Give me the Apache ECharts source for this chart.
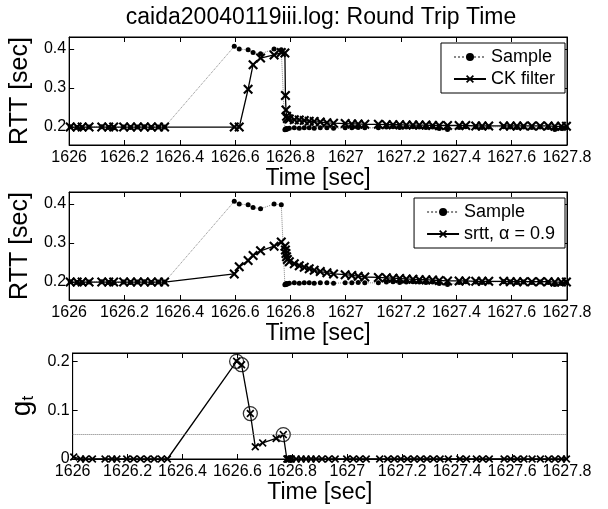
<!DOCTYPE html>
<html>
<head>
<meta charset="utf-8">
<script src="https://cdn.jsdelivr.net/npm/echarts@6/dist/echarts.min.js"></script>
<style>
  html, body { margin: 0; padding: 0; background: #fff; }
  #chart { width: 608px; height: 509px; }
</style>
</head>
<body>
<div id="chart"></div>
<script>
// sample times [sec]
var times = [
  1626.004, 1626.029, 1626.047, 1626.072, 1626.118, 1626.143, 1626.161, 1626.197, 1626.222, 1626.247,
  1626.272, 1626.297, 1626.323, 1626.345,
  1626.597, 1626.615, 1626.647, 1626.665, 1626.692, 1626.741, 1626.767, 1626.780,
  1626.782, 1626.784, 1626.786, 1626.789,
  1626.796, 1626.814, 1626.832, 1626.850, 1626.868, 1626.886, 1626.908, 1626.932, 1626.956, 1626.998,
  1627.022, 1627.045, 1627.069, 1627.118, 1627.147, 1627.171, 1627.195, 1627.219, 1627.243, 1627.266,
  1627.290, 1627.314, 1627.338, 1627.368, 1627.410, 1627.434, 1627.470, 1627.493, 1627.517, 1627.571,
  1627.595, 1627.619, 1627.643, 1627.673, 1627.703, 1627.732, 1627.756, 1627.780, 1627.798
];
var sampleRtt = [
  0.201, 0.199, 0.198, 0.200, 0.201, 0.199, 0.198, 0.200, 0.199, 0.200,
  0.201, 0.199, 0.200, 0.200,
  0.407, 0.400, 0.398, 0.391, 0.388, 0.400, 0.398, 0.193,
  0.195, 0.194, 0.196, 0.195,
  0.197, 0.198, 0.197, 0.198, 0.198, 0.197, 0.198, 0.198, 0.197, 0.198,
  0.198, 0.199, 0.198, 0.198, 0.200, 0.201, 0.199, 0.200, 0.201, 0.200,
  0.199, 0.200, 0.196, 0.194, 0.199, 0.201, 0.200, 0.199, 0.200, 0.201,
  0.200, 0.199, 0.200, 0.199, 0.200, 0.199, 0.194, 0.196, 0.199
];
var ckRtt = [
  0.200, 0.200, 0.200, 0.200, 0.200, 0.200, 0.200, 0.200, 0.200, 0.200,
  0.200, 0.200, 0.200, 0.200,
  0.200, 0.200, 0.297, 0.360, 0.377, 0.385, 0.391, 0.390,
  0.281, 0.244, 0.228, 0.222,
  0.221, 0.219, 0.218, 0.217, 0.215, 0.214, 0.213, 0.211, 0.210, 0.209,
  0.208, 0.208, 0.207, 0.207, 0.206, 0.206, 0.206, 0.205, 0.205, 0.205,
  0.205, 0.204, 0.204, 0.204, 0.204, 0.204, 0.203, 0.203, 0.203, 0.203,
  0.203, 0.203, 0.203, 0.203, 0.203, 0.203, 0.202, 0.202, 0.202
];
var srttRtt = [
  0.200, 0.200, 0.200, 0.200, 0.200, 0.200, 0.200, 0.200, 0.200, 0.200,
  0.200, 0.200, 0.200, 0.200,
  0.221, 0.239, 0.255, 0.268, 0.280, 0.292, 0.303, 0.292,
  0.282, 0.273, 0.265, 0.258,
  0.252, 0.247, 0.242, 0.238, 0.234, 0.230, 0.227, 0.224, 0.221, 0.219,
  0.217, 0.215, 0.213, 0.212, 0.211, 0.210, 0.209, 0.208, 0.207, 0.206,
  0.206, 0.205, 0.204, 0.203, 0.203, 0.203, 0.202, 0.202, 0.202, 0.202,
  0.201, 0.201, 0.201, 0.201, 0.201, 0.201, 0.200, 0.200, 0.200
];
var gVal = [
  0.004, 0, 0, 0, 0, 0, 0, 0, 0, 0,
  0, 0, 0, 0,
  0.200, 0.193, 0.093, 0.025, 0.033, 0.042, 0.050, 0,
  0, 0, 0, 0,
  0, 0, 0, 0, 0, 0, 0, 0, 0, 0,
  0, 0, 0, 0, 0, 0, 0, 0, 0, 0,
  0, 0, 0, 0, 0, 0, 0, 0, 0, 0,
  0, 0, 0, 0, 0, 0, 0, 0, 0
];
// samples flagged with a circle in the g_t panel
var alarmTimes = [1626.597, 1626.615, 1626.647, 1626.767];
var gThreshold = 0.05;

var timeTicks = [1626, 1626.2, 1626.4, 1626.6, 1626.8, 1627, 1627.2, 1627.4, 1627.6, 1627.8];
var rttTicks = [0.2, 0.3, 0.4];
var gTicks = [0, 0.1, 0.2];

var FONT = '"Liberation Sans", Arial, sans-serif';
var xMark = 'path://M0,1.5L1.5,0L5,3.5L8.5,0L10,1.5L6.5,5L10,8.5L8.5,10L5,6.5L1.5,10L0,8.5L3.5,5Z';

function pairs(ys) {
  return times.map(function (t, i) { return [t, ys[i]]; });
}

var grids = [
  { left: 65, right: 41, top: 37, height: 108 },
  { left: 65, right: 41, top: 192, height: 108 },
  { left: 65, right: 41, top: 353, height: 106 }
];

function fmt(v) { return String(Math.round(v * 10) / 10); }

function xAxisFor(gi, top) {
  return {
    type: 'value', gridIndex: gi, min: 1626, max: 1627.8,
    position: top ? 'top' : 'bottom',
    name: top ? '' : 'Time [sec]', nameLocation: 'middle', nameGap: 22,
    nameTextStyle: { fontFamily: FONT, fontSize: 23, color: '#000' },
    axisLine: { show: true, onZero: false, lineStyle: { color: '#000', width: 1 } },
    axisTick: { show: true, inside: true, length: 5, customValues: timeTicks, lineStyle: { color: '#000' } },
    axisLabel: {
      show: !top, customValues: timeTicks, margin: 5,
      fontFamily: FONT, fontSize: 16, color: '#000', formatter: fmt
    },
    splitLine: { show: false }
  };
}

function yAxisFor(gi, right, lo, hi, ticks, name) {
  return {
    type: 'value', gridIndex: gi, min: lo, max: hi,
    position: right ? 'right' : 'left',
    name: right ? '' : name, nameLocation: 'middle', nameGap: 15,
    nameTextStyle: {
      fontFamily: FONT, fontSize: 25, color: '#000',
      rich: {
        g: { fontFamily: FONT, fontSize: 28, color: '#000' },
        t: { fontFamily: FONT, fontSize: 17, color: '#000', padding: [12, 0, 0, 0] }
      }
    },
    axisLine: { show: true, onZero: false, lineStyle: { color: '#000', width: 1 } },
    axisTick: { show: true, inside: true, length: 5, customValues: ticks, lineStyle: { color: '#000' } },
    axisLabel: {
      show: !right, customValues: ticks, margin: 3,
      fontFamily: FONT, fontSize: 16, color: '#000', formatter: fmt
    },
    splitLine: { show: false }
  };
}

function sampleSeries(ai) {
  return {
    name: 'Sample', type: 'line', xAxisIndex: ai, yAxisIndex: ai,
    data: pairs(sampleRtt), symbol: 'circle', symbolSize: 5, showAllSymbol: true,
    lineStyle: { type: 'dotted', color: '#888', width: 1 },
    itemStyle: { color: '#000' }, z: 2
  };
}

function crossSeries(name, ai, ys) {
  return {
    name: name, type: 'line', xAxisIndex: ai, yAxisIndex: ai,
    data: pairs(ys), symbol: xMark, symbolSize: 10, showAllSymbol: true,
    lineStyle: { color: '#000', width: 1.3 },
    itemStyle: { color: '#000' }, z: 3
  };
}

function legendAt(top, names) {
  return {
    data: names, orient: 'vertical', right: 43, top: top,
    backgroundColor: '#fff', borderColor: '#000', borderWidth: 1,
    padding: [5, 10, 5, 12], itemWidth: 32, itemHeight: 10, itemGap: 4,
    selectedMode: false,
    textStyle: { fontFamily: FONT, fontSize: 18, color: '#000' }
  };
}

var circleData = alarmTimes.map(function (t) {
  return [t, gVal[times.indexOf(t)]];
});

var chart = echarts.init(document.getElementById('chart'));
chart.setOption({
  animation: false,
  backgroundColor: '#fff',
  title: {
    text: 'caida20040119iii.log: Round Trip Time',
    left: 316, textAlign: 'center', top: 1,
    textStyle: { fontFamily: FONT, fontSize: 23, fontWeight: 'normal', color: '#000' }
  },
  legend: [
    legendAt(43, ['Sample', 'CK filter']),
    legendAt(198, ['Sample', 'srtt, α = 0.9'])
  ],
  grid: grids.map(function (g) {
    return Object.assign({ show: true, borderColor: '#000', borderWidth: 1, backgroundColor: '#fff' }, g);
  }),
  xAxis: [
    xAxisFor(0, false), xAxisFor(1, false), xAxisFor(2, false),
    xAxisFor(0, true), xAxisFor(1, true), xAxisFor(2, true)
  ],
  yAxis: [
    yAxisFor(0, false, 0.154, 0.431, rttTicks, 'RTT [sec]'),
    yAxisFor(1, false, 0.154, 0.431, rttTicks, 'RTT [sec]'),
    yAxisFor(2, false, 0, 0.217, gTicks, '{g|g}{t|t}'),
    yAxisFor(0, true, 0.154, 0.431, rttTicks, ''),
    yAxisFor(1, true, 0.154, 0.431, rttTicks, ''),
    yAxisFor(2, true, 0, 0.217, gTicks, '')
  ],
  series: [
    sampleSeries(0),
    crossSeries('CK filter', 0, ckRtt),
    sampleSeries(1),
    crossSeries('srtt, α = 0.9', 1, srttRtt),
    {
      name: 'g', type: 'line', xAxisIndex: 2, yAxisIndex: 2,
      data: pairs(gVal), symbol: xMark, symbolSize: 8, showAllSymbol: true,
      lineStyle: { color: '#000', width: 1.3 }, itemStyle: { color: '#000' }, z: 3,
      markLine: {
        silent: true, symbol: 'none', label: { show: false },
        lineStyle: { type: 'dotted', color: '#777', width: 1 },
        data: [{ yAxis: gThreshold }]
      }
    },
    {
      name: 'alarm', type: 'scatter', xAxisIndex: 2, yAxisIndex: 2,
      data: circleData, symbol: 'circle', symbolSize: 14,
      itemStyle: { color: 'rgba(0,0,0,0)', borderColor: '#000', borderWidth: 1.3 }, z: 4
    }
  ]
});
</script>
</body>
</html>
